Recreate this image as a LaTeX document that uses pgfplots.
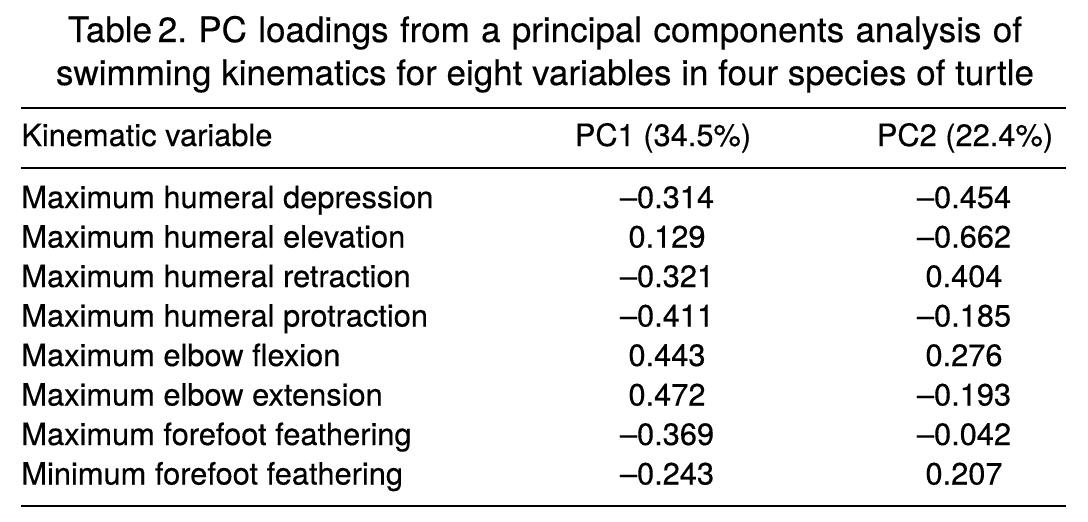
\documentclass[border=0pt]{standalone}
\usepackage{fontspec}
\setmainfont{TeX Gyre Heros}[FakeBold=0.35]
\usepackage{pgfplots}
\usepackage{pgfplotstable}
\pgfplotsset{compat=1.18}
\frenchspacing

\pgfplotstableread[col sep=comma,row sep=\\]{
row,name,pc1,pc2\\
0,Maximum humeral depression,-0.314,-0.454\\
1,Maximum humeral elevation,0.129,-0.662\\
2,Maximum humeral retraction,-0.321,0.404\\
3,Maximum humeral protraction,-0.411,-0.185\\
4,Maximum elbow flexion,0.443,0.276\\
5,Maximum elbow extension,0.472,-0.193\\
6,Maximum forefoot feathering,-0.369,-0.042\\
7,Minimum forefoot feathering,-0.243,0.207\\
}\loadings

\newcommand\bodyfont{\fontsize{15.4}{18}\selectfont}
\newcommand\titlefont{\fontsize{17.5}{21}\selectfont}
\newcommand\loading[1]{\ifdim#1pt<0pt\textendash\fi\pgfmathparse{abs(#1)}\pgfmathprintnumber[fixed,precision=3,zerofill,assume math mode=true]{\pgfmathresult}}

\begin{document}
\begin{tikzpicture}
\begin{axis}[
  width=544pt, height=260.5pt, scale only axis,
  xmin=0, xmax=1088, ymin=0, ymax=521, y dir=reverse,
  hide axis, clip=false,
]
% title
\node[anchor=base, inner sep=0pt, font=\titlefont] at (axis cs:545,42) {\makebox[477pt][s]{\frenchspacing Table\,2. PC loadings from a principal components analysis of}};
\node[anchor=base, inner sep=0pt, font=\titlefont] at (axis cs:545,85) {swimming kinematics for eight variables in four species of turtle};
% rules
\draw[line width=1.1pt] (axis cs:21,108) -- (axis cs:1066,108);
\draw[line width=1.1pt] (axis cs:21,168) -- (axis cs:1066,168);
\draw[line width=1.1pt] (axis cs:21,506) -- (axis cs:1066,506);
% header
\node[anchor=base west, inner sep=0pt, font=\bodyfont] at (axis cs:21,146) {Kinematic variable};
\node[anchor=base, inner sep=0pt, font=\bodyfont] at (axis cs:663,146) {PC1 (34.5\%)};
\node[anchor=base, inner sep=0pt, font=\bodyfont] at (axis cs:965,146) {PC2 (22.4\%)};
% row labels
\addplot[draw=none, mark=none, point meta=explicit symbolic,
  nodes near coords,
  nodes near coords style={anchor=base west, inner sep=0pt, font=\bodyfont}]
  table[x expr=21, y expr=208+39.5*\thisrow{row}, meta=name] {\loadings};
% PC1
\addplot[draw=none, mark=none, point meta=explicit symbolic,
  nodes near coords={\loading{\pgfplotspointmeta}},
  nodes near coords style={anchor=base, inner sep=0pt, font=\bodyfont}]
  table[x expr=667, y expr=208+39.5*\thisrow{row}, meta=pc1] {\loadings};
% PC2
\addplot[draw=none, mark=none, point meta=explicit symbolic,
  nodes near coords={\loading{\pgfplotspointmeta}},
  nodes near coords style={anchor=base, inner sep=0pt, font=\bodyfont}]
  table[x expr=964, y expr=208+39.5*\thisrow{row}, meta=pc2] {\loadings};
\end{axis}
\pgfresetboundingbox
\path (current axis.south west) rectangle (current axis.north east);
\end{tikzpicture}
\end{document}
